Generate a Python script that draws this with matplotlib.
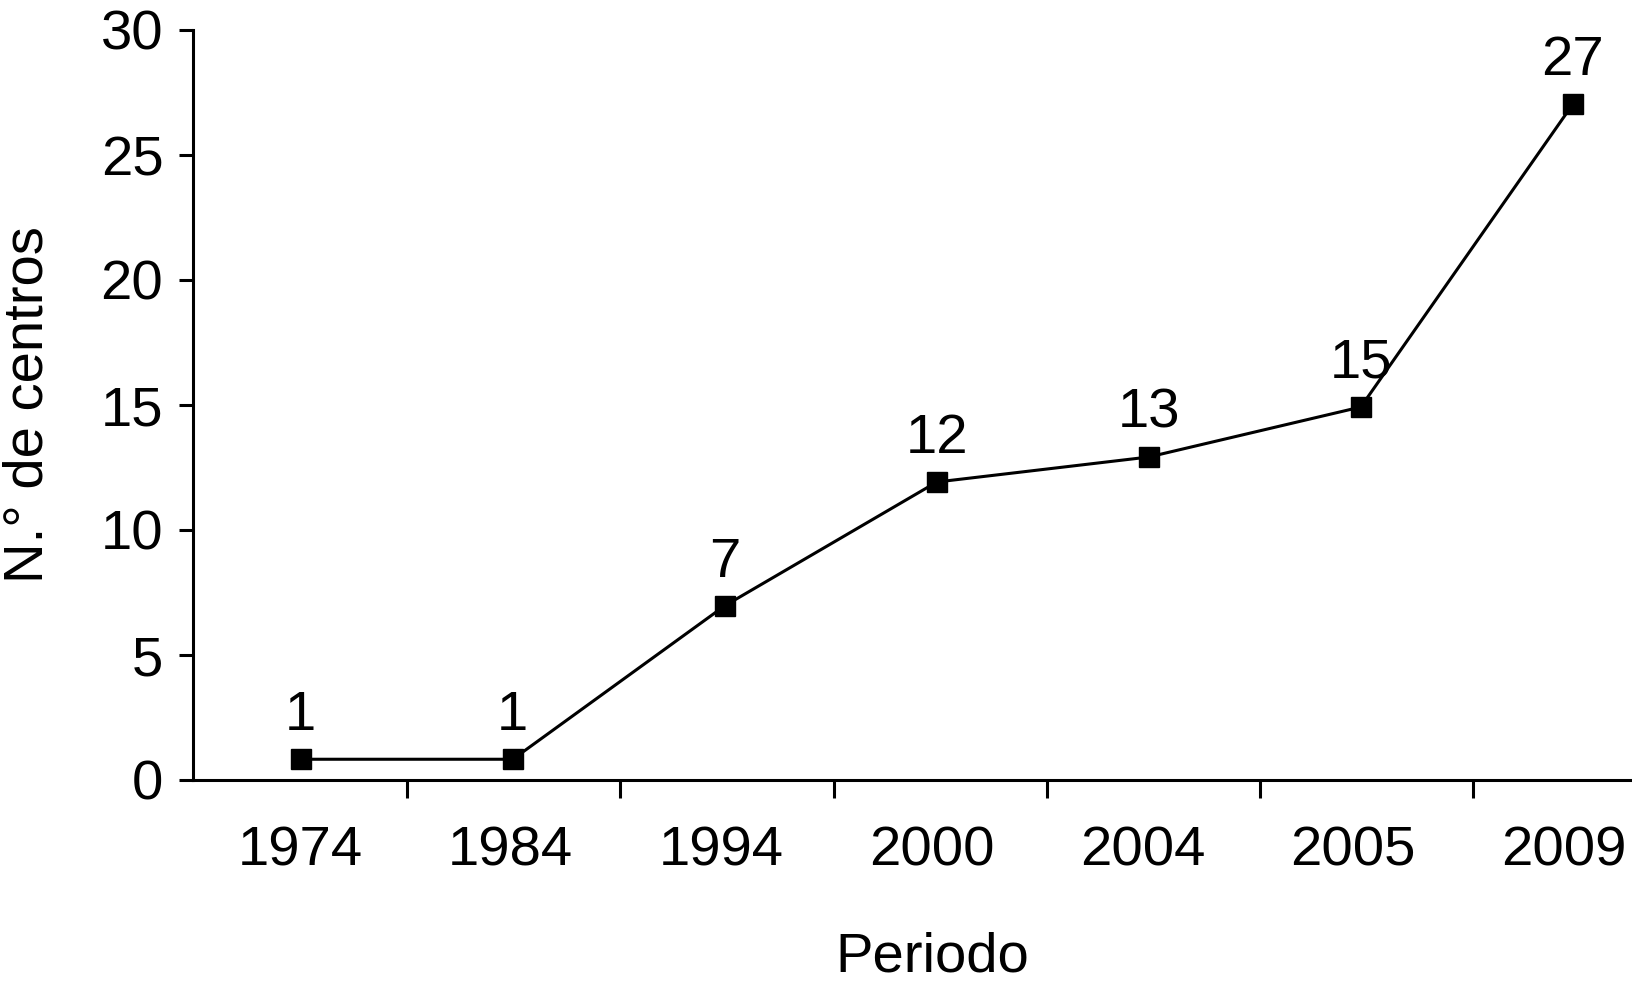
import matplotlib
matplotlib.use('Agg')
import matplotlib.pyplot as plt
import numpy as np

periods = ['1974', '1984', '1994', '2000', '2004', '2005', '2009']
# marker heights, labels as printed
centros = [0.83, 0.83, 6.97, 11.92, 12.92, 14.92, 27.03]
labels = ['1', '1', '7', '12', '13', '15', '27']

plt.rcParams['font.family'] = ['Liberation Sans', 'DejaVu Sans']
fs = 40.5
lw = 2.2

W, H = 1632, 990
x0 = 192.5          # left spine, px
unit = 212.0        # px per category
first = 300.8       # px of first marker

fig = plt.figure(figsize=(W/100, H/100), dpi=100)
ax = fig.add_axes([x0/W, 210/H, 1 - x0/W, 750/H])

x = np.arange(len(periods))
ax.plot(x, centros, color='black', lw=lw, marker='s', markersize=14.5,
        markerfacecolor='black', markeredgecolor='black', clip_on=False)
for xi, yi, t in zip(x, centros, labels):
    ax.annotate(t, (xi, yi), xytext=(0, 21), textcoords='offset points',
                ha='center', va='baseline', fontsize=fs)

# category separators and label spots, slightly uneven in the original
sep = (193.6 + 213.3*np.arange(1, 7) - first)/unit
lab = (300.0 + 210.6*np.arange(7) - first)/unit

ax.set_yticks([0, 5, 10, 15, 20, 25, 30])
ax.set_xticks(lab)
ax.set_xticklabels(periods)
ax.set_xticks(sep, minor=True)
ax.set_xlim(-(first - x0)/unit, (W - first)/unit)
ax.set_ylim(0, 30)

ax.tick_params(axis='x', which='major', length=0, pad=33, labelsize=fs)
ax.tick_params(axis='x', which='minor', length=13, width=lw, direction='out')
ax.tick_params(axis='y', length=10, width=lw, pad=11, labelsize=fs)

for s in ['top', 'right']:
    ax.spines[s].set_visible(False)
for s in ['left', 'bottom']:
    ax.spines[s].set_linewidth(lw)

ax.set_xlabel('Periodo', fontsize=fs)
ax.xaxis.set_label_coords((932 - x0)/(W - x0), -(972 - 780)/750)
ax.xaxis.label.set_va('baseline')
ax.set_ylabel('N.° de centros', fontsize=fs)
ax.yaxis.set_label_coords(-(x0 - 29)/(W - x0), 0.5)
ax.yaxis.label.set_va('center')

fig.savefig('out.png', dpi=100)
